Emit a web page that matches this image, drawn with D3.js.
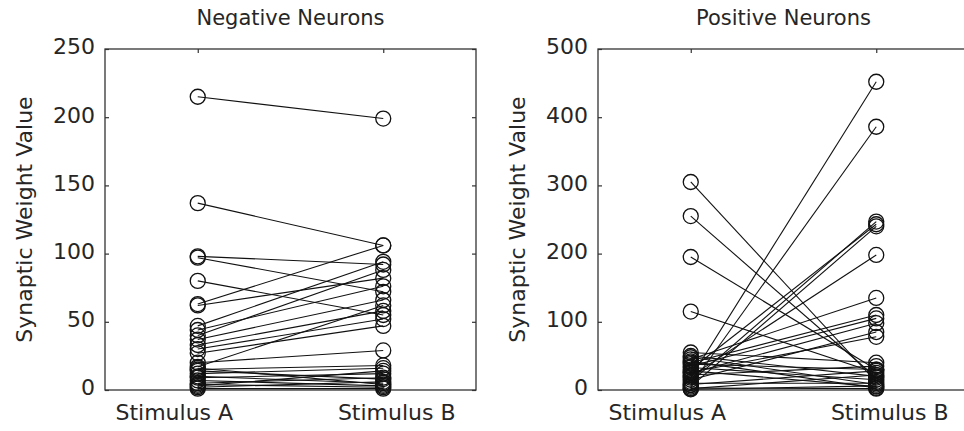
<!DOCTYPE html>
<html>
<head>
<meta charset="utf-8">
<script src="https://cdn.jsdelivr.net/npm/d3@7"></script>
<style>
  html, body { margin: 0; padding: 0; background: #fff; }
  svg { display: block; }
  text { font-family: "DejaVu Sans", sans-serif; fill: #262626; }
</style>
</head>
<body>
<svg id="chart" width="964" height="431"></svg>
<script>
// Conditions on the x axis
const conditions = ["Stimulus A", "Stimulus B"];

// Negative neurons: synaptic weight under stimulus A and stimulus B (paired by index)
const negativeA = [215, 137, 98, 97, 80, 63, 62, 47, 44, 40, 37, 33, 30, 27, 20, 17, 15, 14, 12, 10, 9, 7, 5, 4, 3, 2, 1, 16];
const negativeB = [199, 106, 92, 72, 55, 106, 82, 94, 76, 88, 66, 58, 52, 47, 29, 62, 18, 8, 16, 5, 12, 3, 9, 2, 14, 6, 1, 4];

// Positive neurons: synaptic weight under stimulus A and stimulus B (paired by index)
const positiveA = [305, 255, 195, 115, 18, 7, 12, 30, 5, 20, 45, 40, 35, 25, 15, 50, 48, 42, 38, 33, 28, 22, 10, 8, 3, 2, 1, 55, 26];
const positiveB = [12, 18, 30, 25, 452, 386, 247, 243, 240, 198, 135, 110, 105, 98, 85, 20, 8, 3, 30, 15, 5, 35, 10, 28, 2, 22, 6, 40, 78];

// Axis tick values
const negativeTicks = [0, 50, 100, 150, 200, 250];
const positiveTicks = [0, 100, 200, 300, 400, 500];

const svg = d3.select("#chart");

function panel(opts) {
  const { left, right, top, bottom, yMax, ticks, title, a, b } = opts;
  const x = d3.scaleLinear().domain([0.5, 2.5]).range([left, right]);
  const y = d3.scaleLinear().domain([0, yMax]).range([bottom, top]);
  const g = svg.append("g");

  // Box
  g.append("rect")
    .attr("x", left).attr("y", top)
    .attr("width", right - left).attr("height", bottom - top)
    .attr("fill", "none").attr("stroke", "#333").attr("stroke-width", 1.3);

  // Y ticks with labels on the left edge (pointing inward)
  const yAxis = g.append("g").attr("transform", `translate(${left},0)`)
    .call(d3.axisLeft(y).tickValues(ticks).tickSize(-4).tickSizeOuter(0).tickPadding(10));
  yAxis.select(".domain").remove();
  yAxis.selectAll("line").attr("stroke", "#333").attr("stroke-width", 1.2);
  yAxis.selectAll("text").attr("font-size", 22).attr("fill", "#262626")
    .attr("font-family", "DejaVu Sans").attr("dy", "0.22em");

  // Matching ticks on the right edge
  const yAxisR = g.append("g").attr("transform", `translate(${right},0)`)
    .call(d3.axisRight(y).tickValues(ticks).tickSize(-4).tickSizeOuter(0).tickFormat(""));
  yAxisR.select(".domain").remove();
  yAxisR.selectAll("line").attr("stroke", "#333").attr("stroke-width", 1.2);

  // X ticks on bottom and top edges
  const xAxis = g.append("g").attr("transform", `translate(0,${bottom})`)
    .call(d3.axisBottom(x).tickValues([1, 2]).tickSize(-4).tickSizeOuter(0)
      .tickFormat((d, i) => conditions[i]).tickPadding(14));
  xAxis.select(".domain").remove();
  xAxis.selectAll("line").attr("stroke", "#333").attr("stroke-width", 1.2);
  xAxis.selectAll("text").attr("font-size", 22).attr("fill", "#262626")
    .attr("font-family", "DejaVu Sans")
    .attr("dx", (d, i) => (i === 0 ? -24 : 13));

  const xAxisT = g.append("g").attr("transform", `translate(0,${top})`)
    .call(d3.axisTop(x).tickValues([1, 2]).tickSize(-4).tickSizeOuter(0).tickFormat(""));
  xAxisT.select(".domain").remove();
  xAxisT.selectAll("line").attr("stroke", "#333").attr("stroke-width", 1.2);

  // Title
  g.append("text")
    .attr("x", (left + right) / 2).attr("y", 25)
    .attr("text-anchor", "middle").attr("font-size", 21)
    .text(title);

  // Y axis label
  g.append("text")
    .attr("transform", `translate(${left - 81},${(top + bottom) / 2}) rotate(-90)`)
    .attr("text-anchor", "middle").attr("dy", "0.35em").attr("font-size", 22)
    .text("Synaptic Weight Value");

  // Paired lines
  const pairs = a.map((v, i) => [v, b[i]]);
  g.append("g").selectAll("line").data(pairs).join("line")
    .attr("x1", x(1)).attr("x2", x(2))
    .attr("y1", d => y(d[0])).attr("y2", d => y(d[1]))
    .attr("stroke", "#111").attr("stroke-width", 1.1);

  // Circle markers
  const marks = g.append("g");
  marks.selectAll("circle.a").data(a).join("circle").attr("class", "a")
    .attr("cx", x(1)).attr("cy", d => y(d)).attr("r", 7.5)
    .attr("fill", "none").attr("stroke", "#111").attr("stroke-width", 1.3);
  marks.selectAll("circle.b").data(b).join("circle").attr("class", "b")
    .attr("cx", x(2)).attr("cy", d => y(d)).attr("r", 7.5)
    .attr("fill", "none").attr("stroke", "#111").attr("stroke-width", 1.3);
}

panel({ left: 105, right: 476, top: 49, bottom: 390, yMax: 250, ticks: negativeTicks,
        title: "Negative Neurons", a: negativeA, b: negativeB });
panel({ left: 598, right: 969, top: 49, bottom: 390, yMax: 500, ticks: positiveTicks,
        title: "Positive Neurons", a: positiveA, b: positiveB });
</script>
</body>
</html>
